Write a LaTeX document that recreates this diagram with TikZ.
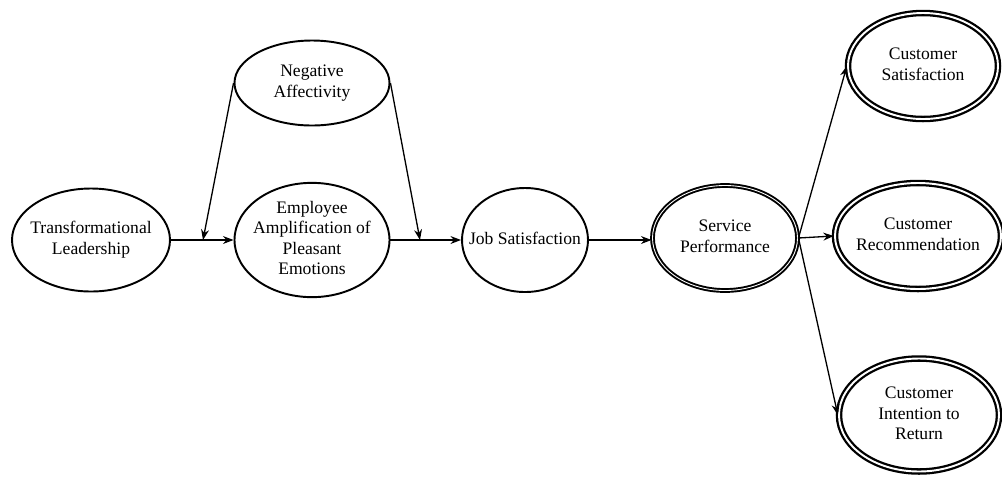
\documentclass[tikz,border=0pt]{standalone}
\usepackage{fontspec}
\setmainfont{Liberation Serif}
\usetikzlibrary{shapes.geometric,arrows.meta}

\newcommand{\ctext}[1]{\makebox[0pt]{\begin{tabular}{@{}c@{}}#1\end{tabular}}}

\begin{document}
\begin{tikzpicture}[x=0.02cm,y=-0.02cm,
    construct/.style 2 args={ellipse, draw, line width=1.1pt, inner sep=0pt,
        minimum width=#1*0.02cm, minimum height=#2*0.02cm,
        font=\fontsize{10}{11.5}\selectfont},
    outcome/.style={double, line width=1.3pt, double distance=1.1pt},
    perf/.style={double, line width=1.1pt, double distance=0.5pt},
    link/.style={-{Stealth[length=6pt,width=4.5pt]}, line width=0.75pt}]
    \useasboundingbox (0,0) rectangle (1002,478);
    % constructs
    \node[construct={158}{103}] (tl) at (91,240) {\ctext{Transformational\\Leadership}};
    \node[construct={155}{85}] (na) at (312,83) {\ctext{Negative\\Affectivity}};
    \node[construct={155}{104}] (ea) at (312,240) {\ctext{Employee\\Amplification of\\Pleasant\\Emotions}};
    \node[construct={126}{104}] (js) at (525,240) {\ctext{Job Satisfaction}};
    \node[construct={145}{105}, perf] (sp) at (725,238) {\ctext{Service\\Performance}};
    \node[construct={150}{106}, outcome] (cs) at (923,66) {\ctext{Customer\\Satisfaction}};
    \node[construct={166}{106}, outcome] (cr) at (918,236) {\ctext{Customer\\Recommendation}};
    \node[construct={160}{113}, outcome] (cir) at (919,415) {\ctext{Customer\\Intention to\\Return}};
    % moderation points
    \coordinate (m1) at (203,240);
    \coordinate (m2) at (420,240);
    % paths
    \draw[link] (tl) -- (ea);
    \draw[link] (na.west) -- (m1);
    \draw[link] (na.east) -- (m2);
    \draw[link] (ea) -- (js);
    \draw[link] (js.east) -- (sp.west |- js.east);
    \draw[link] (sp.east) -- (cs.west);
    \draw[link] (sp.east) -- (cr.west);
    \draw[link] (sp.east) -- (cir.west);
\end{tikzpicture}
\end{document}
